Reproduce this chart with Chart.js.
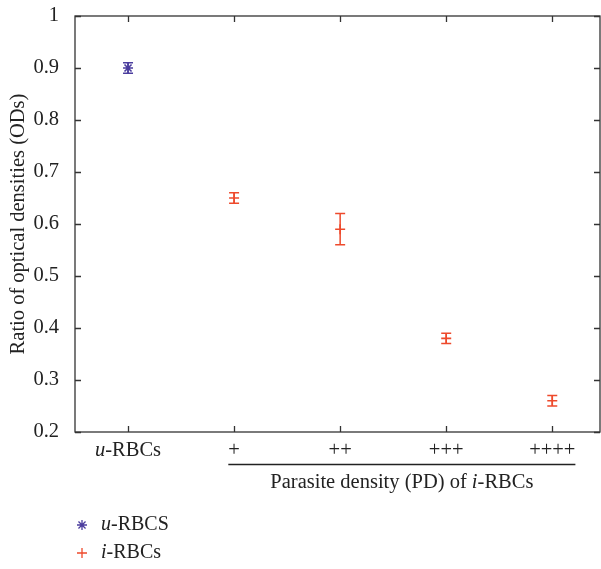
<!DOCTYPE html>
<html>
<head>
<meta charset="utf-8">
<script src="https://cdn.jsdelivr.net/npm/chart.js@4/dist/chart.umd.min.js"></script>
<style>
  html, body { margin: 0; padding: 0; background: #fff; overflow: hidden; }
  #wrap { width: 601px; height: 569px; position: relative; }
  canvas { display: block; }
</style>
</head>
<body>
<div id="wrap"><canvas id="odChart" width="601" height="569"></canvas></div>
<script>
// data
const categories = ['u-RBCs', '+', '++', '+++', '++++'];
const uPositions = [0];
const uValues = [0.90];
const uErrors = [0.01];
const iPositions = [1, 2, 3, 4];
const iValues = [0.65, 0.59, 0.38, 0.26];
const iErrors = [0.01, 0.03, 0.01, 0.01];
const yMin = 0.2, yMax = 1, yStep = 0.1;

const FONT = '"Liberation Serif", "DejaVu Serif", serif';
const AXIS = '#333';
const PURPLE = '#4b3d9e';
const RED = '#ee4a2c';
const TXT = 20.5;

// draws text where a leading "x-" letter is set in italics
function drawMixed(ctx, text, x, y, size, align) {
  const m = text.match(/^([a-z])(-.*)$/);
  const parts = m ? [[m[1], 'italic '], [m[2], '']] : [[text, '']];
  let total = 0;
  parts.forEach(p => { ctx.font = p[1] + size + 'px ' + FONT; total += ctx.measureText(p[0]).width; });
  let cx = align === 'center' ? x - total / 2 : x;
  ctx.textAlign = 'left';
  parts.forEach(p => {
    ctx.font = p[1] + size + 'px ' + FONT;
    ctx.fillText(p[0], cx, y);
    cx += ctx.measureText(p[0]).width;
  });
  return total;
}

const decorations = {
  id: 'decorations',
  afterDraw(chart) {
    const { ctx, chartArea: a, scales: { x, y } } = chart;
    ctx.save();

    // box and inward ticks
    ctx.strokeStyle = AXIS;
    ctx.lineWidth = 1.3;
    ctx.strokeRect(a.left, a.top, a.right - a.left, a.bottom - a.top);
    ctx.beginPath();
    y.ticks.forEach(t => {
      const py = Math.round(y.getPixelForValue(t.value)) + 0.5;
      ctx.moveTo(a.left, py); ctx.lineTo(a.left + 6, py);
      ctx.moveTo(a.right, py); ctx.lineTo(a.right - 6, py);
    });
    categories.forEach((c, i) => {
      const px = Math.round(x.getPixelForValue(i)) + 0.5;
      ctx.moveTo(px, a.bottom); ctx.lineTo(px, a.bottom - 6);
      ctx.moveTo(px, a.top); ctx.lineTo(px, a.top + 6);
    });
    ctx.stroke();

    // error bars
    ctx.lineWidth = 1.5;
    chart.data.datasets.forEach(ds => {
      ctx.strokeStyle = ds.borderColor;
      ds.data.forEach(p => {
        const px = x.getPixelForValue(p.x);
        const top = y.getPixelForValue(p.y + p.err);
        const bot = y.getPixelForValue(p.y - p.err);
        ctx.beginPath();
        ctx.moveTo(px, top); ctx.lineTo(px, bot);
        ctx.moveTo(px - 5, top); ctx.lineTo(px + 5, top);
        ctx.moveTo(px - 5, bot); ctx.lineTo(px + 5, bot);
        ctx.stroke();
      });
    });

    // category labels
    ctx.fillStyle = '#222';
    ctx.textBaseline = 'middle';
    categories.forEach((c, i) => drawMixed(ctx, c, x.getPixelForValue(i), 451, TXT, 'center'));

    // bracket under the i-RBC categories
    ctx.font = TXT + 'px ' + FONT;
    const l = x.getPixelForValue(1) - ctx.measureText(categories[1]).width / 2;
    const r = x.getPixelForValue(4) + ctx.measureText(categories[4]).width / 2;
    ctx.strokeStyle = '#222';
    ctx.lineWidth = 1.3;
    ctx.beginPath();
    ctx.moveTo(l, 464.5); ctx.lineTo(r, 464.5);
    ctx.stroke();

    // x title
    const tx = (l + r) / 2, ty = 483;
    ctx.font = TXT + 'px ' + FONT;
    const w1 = ctx.measureText('Parasite density (PD) of ').width;
    ctx.font = 'italic ' + TXT + 'px ' + FONT;
    const w2 = ctx.measureText('i').width;
    ctx.font = TXT + 'px ' + FONT;
    const w3 = ctx.measureText('-RBCs').width;
    const sx = tx - (w1 + w2 + w3) / 2;
    ctx.textAlign = 'left';
    ctx.fillText('Parasite density (PD) of ', sx, ty);
    ctx.font = 'italic ' + TXT + 'px ' + FONT;
    ctx.fillText('i', sx + w1, ty);
    ctx.font = TXT + 'px ' + FONT;
    ctx.fillText('-RBCs', sx + w1 + w2, ty);

    // y title
    ctx.save();
    ctx.translate(19, (a.top + a.bottom) / 2);
    ctx.rotate(-Math.PI / 2);
    ctx.textAlign = 'center';
    ctx.font = TXT + 'px ' + FONT;
    ctx.fillText('Ratio of optical densities (ODs)', 0, 0);
    ctx.restore();

    // legend
    const legend = [['star', PURPLE, 'u-RBCS', 525], ['cross', RED, 'i-RBCs', 553]];
    legend.forEach(([style, col, label, ly]) => {
      ctx.strokeStyle = col;
      ctx.lineWidth = 1.3;
      Chart.helpers.drawPoint(ctx, { pointStyle: style, radius: 5, borderWidth: 1.3 }, 82, ly);
      ctx.fillStyle = '#222';
      drawMixed(ctx, label, 101, ly, 20, 'left');
    });

    ctx.restore();
  }
};

new Chart(document.getElementById('odChart'), {
  type: 'scatter',
  data: {
    datasets: [
      {
        label: 'u-RBCS',
        data: uPositions.map((p, k) => ({ x: p, y: uValues[k], err: uErrors[k] })),
        pointStyle: 'star',
        pointRadius: 5,
        borderColor: PURPLE,
        backgroundColor: PURPLE,
        pointBorderWidth: 1.6,
        clip: false
      },
      {
        label: 'i-RBCs',
        data: iPositions.map((p, k) => ({ x: p, y: iValues[k], err: iErrors[k] })),
        pointStyle: 'cross',
        pointRadius: 5,
        borderColor: RED,
        backgroundColor: RED,
        pointBorderWidth: 1.6,
        clip: false
      }
    ]
  },
  options: {
    responsive: false,
    animation: false,
    layout: { autoPadding: false, padding: { top: 16, right: 1, left: 0, bottom: 0 } },
    plugins: { legend: { display: false }, tooltip: { enabled: false } },
    scales: {
      x: {
        type: 'linear',
        min: -0.5,
        max: 4.45,
        grid: { display: false },
        border: { display: false },
        ticks: { display: false },
        afterFit(s) { s.height = 137; }
      },
      y: {
        min: yMin,
        max: yMax,
        grid: { display: false },
        border: { display: false },
        ticks: {
          stepSize: yStep,
          padding: 8,
          color: '#222',
          font: { family: FONT, size: TXT },
          callback: v => (Math.abs(v - 1) < 1e-9 ? '1' : v.toFixed(1))
        },
        afterFit(s) { s.width = 75; s.paddingTop = 0; s.paddingBottom = 0; }
      }
    }
  },
  plugins: [decorations]
});
</script>
</body>
</html>
